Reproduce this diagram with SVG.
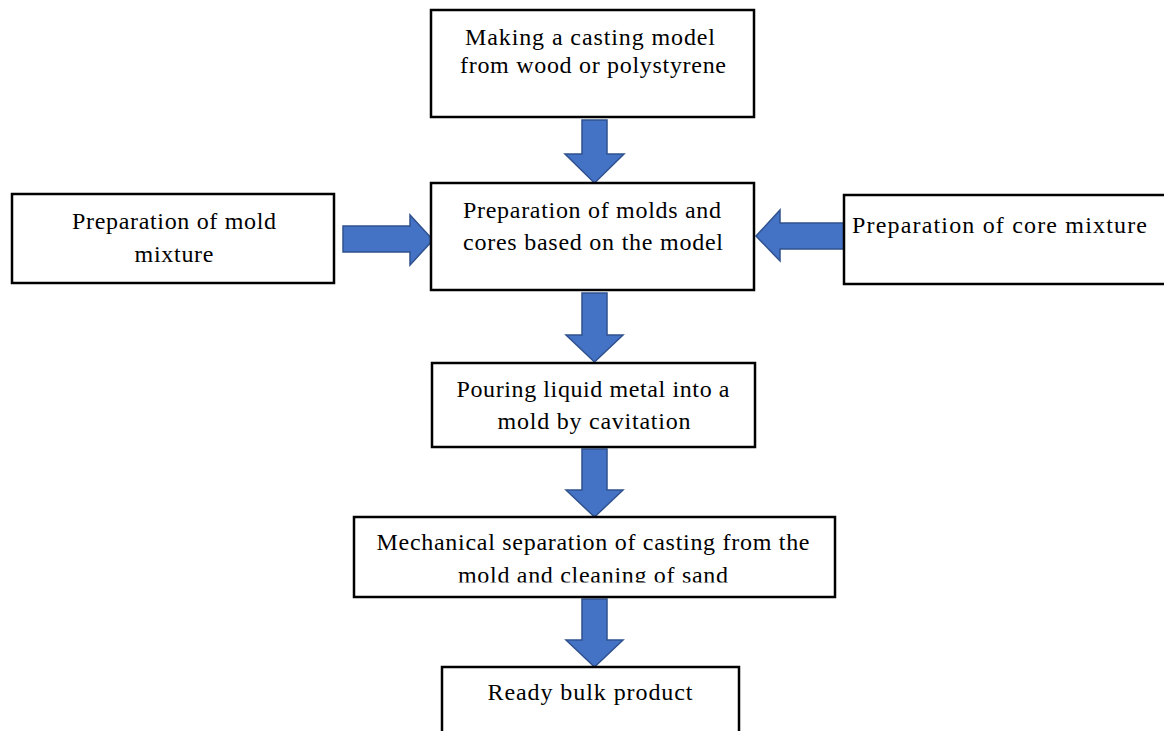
<svg xmlns="http://www.w3.org/2000/svg" width="1164" height="731" viewBox="0 0 1164 731">
<style>
.box{fill:#fff;stroke:#000;stroke-width:2.5}
.t{font-family:"Liberation Serif","Times New Roman",serif;font-size:24px;fill:#000}
.c{text-anchor:middle}
.arr{fill:#4472C4;stroke:#2F528F;stroke-width:1.5;stroke-linejoin:miter}
</style>
<defs>
<clipPath id="clip4"><rect x="354" y="517" width="481" height="65.5"/></clipPath>
</defs>
<rect width="1164" height="731" fill="#fff"/>
<g id="connectors">
<polygon class="arr" points="582,120 607,120 607,154 624,154 594.5,183 565,154 582,154"/>
<polygon class="arr" points="343,226 410,226 410,215 433,240 410,265 410,252 343,252"/>
<polygon class="arr" points="844,223 780,223 780,210 756,236 780,261 780,249 844,249"/>
<polygon class="arr" points="582,293 607,293 607,335 623,335 594.5,362 566,335 582,335"/>
<polygon class="arr" points="582,449 607,449 607,490 623,490 594.5,517 566,490 582,490"/>
<polygon class="arr" points="582,599 607,599 607,640 623,640 594.5,667 566,640 582,640"/>
</g>
<g id="node-model">
<rect class="box" x="431" y="10" width="323" height="107"/>
<text class="t c" x="590" y="45" textLength="250" lengthAdjust="spacing">Making a casting model</text>
<text class="t c" x="593" y="73" textLength="266" lengthAdjust="spacing">from wood or polystyrene</text>
</g>
<g id="node-mold-mixture">
<rect class="box" x="12" y="194" width="322" height="89"/>
<text class="t c" x="174" y="229" textLength="204" lengthAdjust="spacing">Preparation of mold</text>
<text class="t c" x="174" y="262" textLength="79" lengthAdjust="spacing">mixture</text>
</g>
<g id="node-molds-cores">
<rect class="box" x="431" y="183" width="323" height="107"/>
<text class="t c" x="592" y="218" textLength="258" lengthAdjust="spacing">Preparation of molds and</text>
<text class="t c" x="593" y="250" textLength="260" lengthAdjust="spacing">cores based on the model</text>
</g>
<g id="node-core-mixture">
<rect class="box" x="844" y="195" width="322" height="89"/>
<text class="t" x="852" y="233" textLength="295" lengthAdjust="spacing">Preparation of core mixture</text>
</g>
<g id="node-pouring">
<rect class="box" x="432" y="363" width="323" height="84"/>
<text class="t c" x="593" y="397" textLength="273" lengthAdjust="spacing">Pouring liquid metal into a</text>
<text class="t c" x="594" y="429" textLength="193" lengthAdjust="spacing">mold by cavitation</text>
</g>
<g id="node-separation">
<rect class="box" x="354" y="517" width="481" height="80"/>
<text class="t c" x="593" y="550" textLength="433" lengthAdjust="spacing">Mechanical separation of casting from the</text>
<text class="t c" x="593" y="583" textLength="270" lengthAdjust="spacing" clip-path="url(#clip4)">mold and cleaning of sand</text>
</g>
<g id="node-product">
<rect class="box" x="442" y="667" width="297" height="80"/>
<text class="t c" x="590" y="700" textLength="205" lengthAdjust="spacing">Ready bulk product</text>
</g>
</svg>
